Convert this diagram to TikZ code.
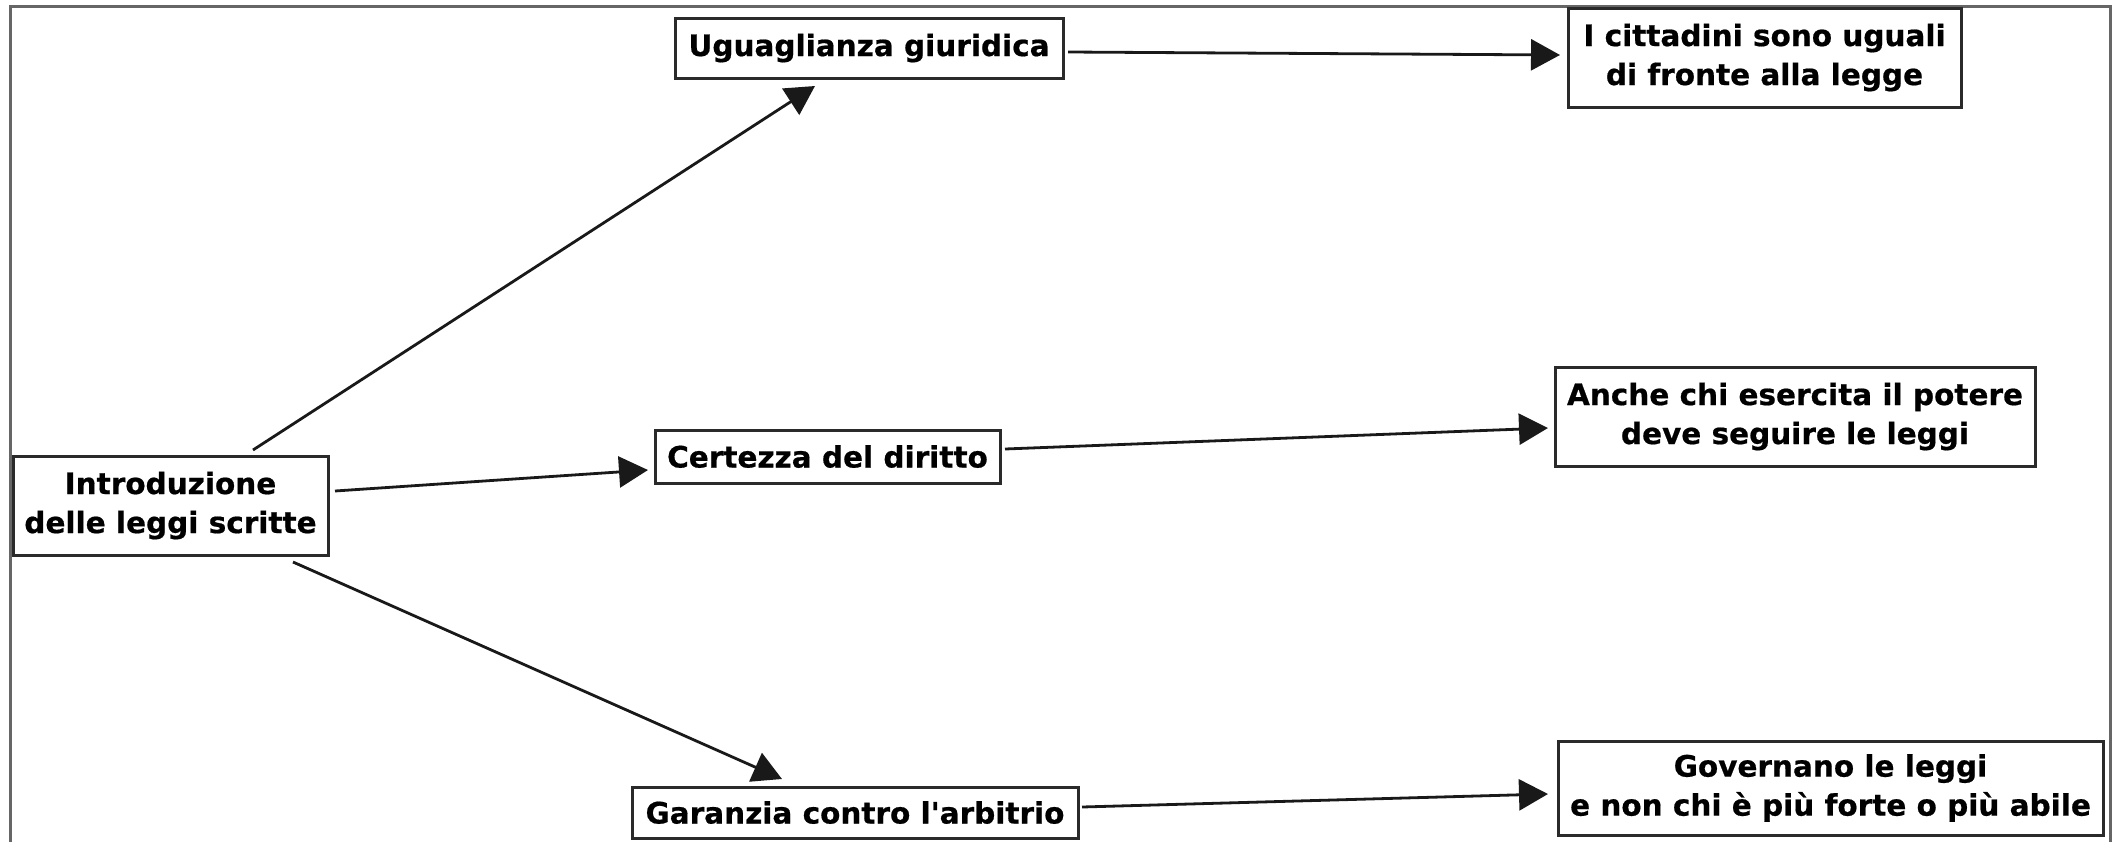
\documentclass[tikz,border=0pt]{standalone}
\usepackage{fontspec}
\setmainfont{DejaVu Sans}[Ligatures=TeXOff, BoldFeatures={FakeBold=0.6}]
\usetikzlibrary{arrows.meta}
\definecolor{boxline}{HTML}{2A2A2A}
\definecolor{frameline}{HTML}{666666}
\begin{document}
\begin{tikzpicture}[x=1pt,y=-1pt,
  txtbox/.style={draw=boxline, line width=3pt, inner sep=0pt, align=center,
    font=\fontsize{29.5}{39}\selectfont\bfseries},
  conn/.style={draw=black!90, line width=2.8pt,
    -{Triangle[length=29pt,width=31pt]}}
]
\useasboundingbox (0,0) rectangle (2114,841);
% frame (bottom edge lies outside the picture)
\draw[frameline, line width=3pt] (10,850) -- (10,6) -- (2110,6) -- (2110,850);

% nodes
\node[txtbox, minimum width=315pt, minimum height=99pt] (intro) at (170.5,505.5)
  {Introduzione\\delle leggi scritte};
\node[txtbox, minimum width=388pt, minimum height=60pt] (ugu) at (869,48)
  {Uguaglianza giuridica};
\node[txtbox, minimum width=345pt, minimum height=53pt] (cert) at (827.5,456.5)
  {Certezza del diritto};
\node[txtbox, minimum width=446pt, minimum height=51pt] (gar) at (855,812.5)
  {Garanzia contro l'arbitrio};
\node[txtbox, minimum width=393pt, minimum height=99pt] (citt) at (1764.5,57.5)
  {I cittadini sono uguali\\di fronte alla legge};
\node[txtbox, minimum width=480pt, minimum height=99pt] (anche) at (1795,416.5)
  {Anche chi esercita il potere\\deve seguire le leggi};
\node[txtbox, minimum width=545pt, minimum height=94pt] (gov) at (1830.5,788)
  {Governano le leggi\\e non chi è più forte o più abile};

% connector end points
\coordinate (s1) at (253,450);  \coordinate (t1) at (815,86);
\coordinate (s2) at (335,491);  \coordinate (t2) at (648,470);
\coordinate (s3) at (293,562);  \coordinate (t3) at (782,779);
\coordinate (s4) at (1068,52);  \coordinate (t4) at (1560,55);
\coordinate (s5) at (1005,449); \coordinate (t5) at (1548,428);
\coordinate (s6) at (1082,807); \coordinate (t6) at (1548,794);

\draw[conn] (s1) -- (t1);
\draw[conn] (s2) -- (t2);
\draw[conn] (s3) -- (t3);
\draw[conn] (s4) -- (t4);
\draw[conn] (s5) -- (t5);
\draw[conn] (s6) -- (t6);
\end{tikzpicture}
\end{document}
